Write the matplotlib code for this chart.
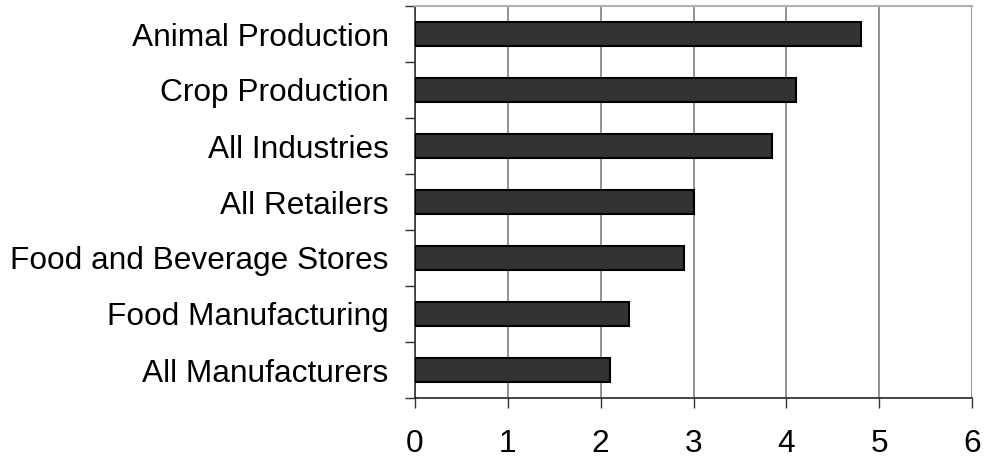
import matplotlib
matplotlib.use("Agg")
import matplotlib.pyplot as plt
import numpy as np

categories = ["Animal Production", "Crop Production", "All Industries", "All Retailers",
              "Food and Beverage Stores", "Food Manufacturing", "All Manufacturers"]
values = [4.8, 4.1, 3.85, 3.0, 2.9, 2.3, 2.1]
x_ticks = [0, 1, 2, 3, 4, 5, 6]

plt.rcParams["font.family"] = ["Liberation Sans", "DejaVu Sans"]

fig = plt.figure(figsize=(9.84, 4.62), dpi=100)
ax = fig.add_axes([415 / 984, 1 - 398 / 462, (972 - 415) / 984, (398 - 6) / 462])

n = len(categories)
ypos = np.arange(n)[::-1]
ax.barh(ypos, values, height=0.42, color="#333333", edgecolor="black", linewidth=1.5, zorder=3)

ax.set_xlim(0, 6)
ax.set_ylim(-0.5, n - 0.5)
ax.set_xticks(x_ticks)
ax.set_xticklabels([str(t) for t in x_ticks], fontsize=22.8)
ax.set_yticks(ypos)
ax.set_yticklabels(categories, fontsize=22.8)
ax.set_yticks(np.arange(-0.5, n, 1.0), minor=True)

ax.tick_params(axis="y", which="major", length=0, pad=19)
ax.tick_params(axis="y", which="minor", length=7, width=1, color="#333333")
ax.tick_params(axis="x", which="major", length=7, width=1, color="#333333", pad=15)

ax.grid(axis="x", color="#808080", linewidth=1.2, zorder=0)
ax.spines["right"].set_visible(False)
ax.spines["top"].set_color("#b0b0b0")
ax.spines["top"].set_linewidth(1.5)
ax.spines["left"].set_color("#333333")
ax.spines["bottom"].set_color("#222222")
ax.spines["left"].set_linewidth(1.2)
ax.spines["bottom"].set_linewidth(1.2)

fig.savefig("out.png", dpi=100)
